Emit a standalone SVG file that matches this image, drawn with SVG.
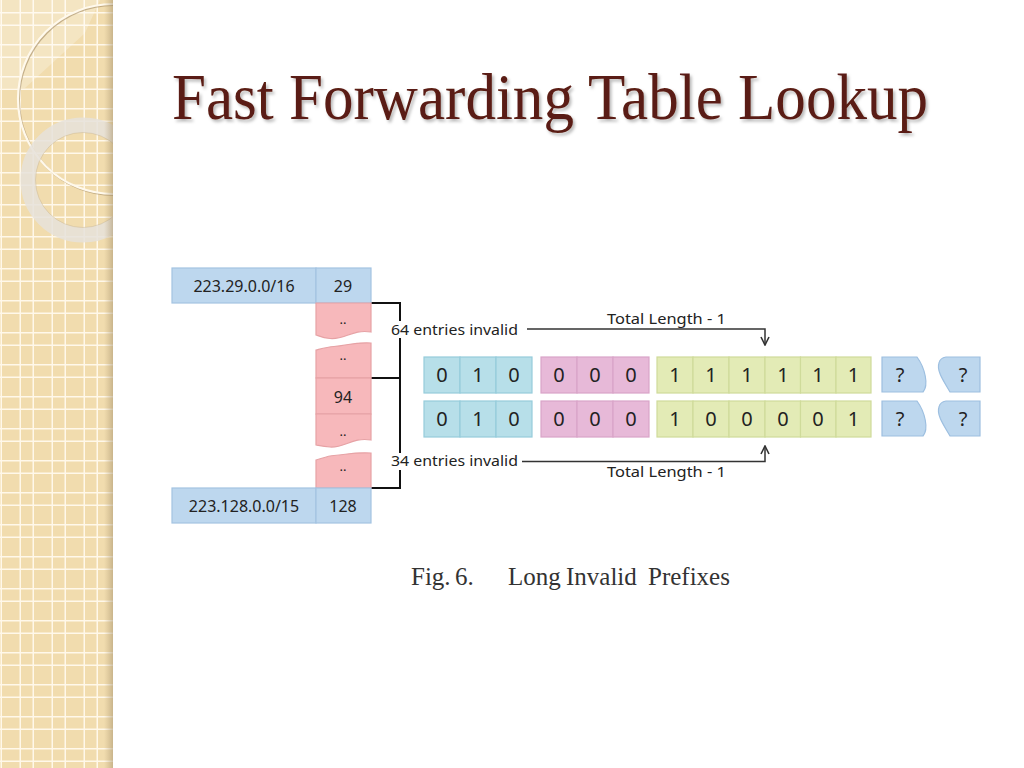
<svg xmlns="http://www.w3.org/2000/svg" width="1024" height="768" viewBox="0 0 1024 768">
<defs>
<pattern id="grid" x="0" y="0" width="32" height="32" patternUnits="userSpaceOnUse">
<rect width="32" height="32" fill="#F1DCAE"/>
<rect x="0" y="12" width="32" height="1.5" fill="#FFF8EA"/>
<rect x="0" y="24.5" width="32" height="1.5" fill="#FFF8EA"/>
<rect x="0.5" y="0" width="1.5" height="32" fill="#FFF8EA"/>
<rect x="19.5" y="0" width="1.5" height="32" fill="#FFF8EA"/>
</pattern>
<linearGradient id="edge" x1="0" y1="0" x2="1" y2="0">
<stop offset="0" stop-color="#B8A27A" stop-opacity="0"/>
<stop offset="1" stop-color="#A8946E" stop-opacity="0.55"/>
</linearGradient>
<clipPath id="side"><rect x="0" y="0" width="113" height="768"/></clipPath>
<filter id="tshadow" x="-5%" y="-20%" width="110%" height="150%">
<feDropShadow dx="2" dy="2.5" stdDeviation="1.5" flood-color="#000" flood-opacity="0.28"/>
</filter>
<marker id="arr" viewBox="0 0 10 10" refX="9" refY="5" markerWidth="10" markerHeight="10" markerUnits="userSpaceOnUse" orient="auto">
<path d="M1,1 L9,5 L1,9" fill="none" stroke="#333" stroke-width="1.6"/>
</marker>
<style>
.lbl{font-family:"Noto Sans","Liberation Sans",sans-serif;fill:#222;}
.bit{font-family:"Noto Sans","Liberation Sans",sans-serif;font-size:20px;fill:#222;text-anchor:middle;}
.blue{fill:#BDD7EE;stroke:#A3C3E2;stroke-width:1.2;}
.pink{fill:#F7B8BB;stroke:#E6A2A5;stroke-width:1.2;}
.cyan{fill:#B7DFE9;stroke:#96CCDB;stroke-width:1.2;}
.mag{fill:#E7B9D8;stroke:#D9A4C8;stroke-width:1.2;}
.grn{fill:#E3EBB6;stroke:#CFDB9A;stroke-width:1.2;}
.q{fill:#BDD7EE;stroke:#9DBFE0;stroke-width:1.2;}
.ln{fill:none;stroke:#333;stroke-width:1.5;}
.br{fill:none;stroke:#111;stroke-width:2;}
.cap{font-family:"Liberation Serif","Times New Roman",serif;font-size:25px;fill:#333;}
</style>
</defs>

<g id="sidebar">
<rect x="0" y="0" width="113" height="768" fill="url(#grid)"/>
<g clip-path="url(#side)">
<polygon points="0,0 100,0 85,33 25,88 0,88" fill="#FFFFFF" opacity="0.25"/>
<circle cx="114" cy="100" r="95" fill="none" stroke="#A48A62" stroke-width="2" opacity="0.6"/>
<circle cx="113" cy="99" r="95" fill="none" stroke="#FFF9EC" stroke-width="2.2"/>
<circle cx="83" cy="180" r="55" fill="none" stroke="#E6E2DA" stroke-width="15" opacity="0.85"/>
<circle cx="83" cy="180" r="47.5" fill="none" stroke="#C9B899" stroke-width="0.8" opacity="0.6"/>
<rect x="104" y="0" width="9" height="768" fill="url(#edge)"/>
</g>
</g>

<text id="title" x="172" y="119" font-family="'Liberation Serif','Times New Roman',serif" font-size="66" fill="#5A1D12" textLength="756" lengthAdjust="spacingAndGlyphs" filter="url(#tshadow)">Fast Forwarding Table Lookup</text>

<g id="connectors">
<path class="br" d="M371,303 H400 V321 M400,338 V453 M400,470 V488 H371 M371,378 H400"/>
<path class="ln" d="M527,329 H765 V345" marker-end="url(#arr)"/>
<path class="ln" d="M522,461.5 H765 V446" marker-end="url(#arr)"/>
</g>

<g id="entry-223-29">
<rect class="blue" x="172" y="268" width="144" height="35"/>
<rect class="blue" x="316" y="268" width="55" height="35"/>
<text class="lbl" x="244" y="292" font-size="16" text-anchor="middle">223.29.0.0/16</text>
<text class="lbl" x="343" y="292" font-size="16" text-anchor="middle">29</text>
</g>

<g id="pink-1">
<path class="pink" d="M316,303 H371 V332 C352,329 345,340 330,338.5 C323,338 319,336 316,335 Z"/>
<text class="lbl" x="343" y="324" font-size="13" text-anchor="middle">..</text>
</g>

<g id="pink-2">
<path class="pink" d="M316,350 C322,348.5 327,347 334,346.5 C347,345.5 354,342 371,343 V378 H316 Z"/>
<text class="lbl" x="343" y="360" font-size="13" text-anchor="middle">..</text>
</g>

<g id="pink-94">
<rect class="pink" x="316" y="378" width="55" height="36"/>
<text class="lbl" x="343" y="403" font-size="16" text-anchor="middle">94</text>
</g>

<g id="pink-3">
<path class="pink" d="M316,414 H371 V440 C352,437 345,448 330,447 C323,446.5 319,445.5 316,445 Z"/>
<text class="lbl" x="343" y="436" font-size="13" text-anchor="middle">..</text>
</g>

<g id="pink-4">
<path class="pink" d="M316,460 C322,458.5 327,456 334,455.5 C347,454.5 354,452 371,453 V488 H316 Z"/>
<text class="lbl" x="343" y="471" font-size="13" text-anchor="middle">..</text>
</g>

<g id="entry-223-128">
<rect class="blue" x="172" y="488" width="144" height="35"/>
<rect class="blue" x="316" y="488" width="55" height="35"/>
<text class="lbl" x="244" y="512" font-size="16" text-anchor="middle">223.128.0.0/15</text>
<text class="lbl" x="343" y="512" font-size="16" text-anchor="middle">128</text>
</g>

<g id="label-64">
<text class="lbl" x="391" y="334.5" font-size="15" textLength="127" lengthAdjust="spacingAndGlyphs">64 entries invalid</text>
</g>
<g id="label-total-top">
<text class="lbl" x="607" y="324" font-size="15" textLength="119" lengthAdjust="spacingAndGlyphs">Total Length - 1</text>
</g>
<g id="label-34">
<text class="lbl" x="391" y="466" font-size="15" textLength="127" lengthAdjust="spacingAndGlyphs">34 entries invalid</text>
</g>
<g id="label-total-bottom">
<text class="lbl" x="607" y="477" font-size="15" textLength="119" lengthAdjust="spacingAndGlyphs">Total Length - 1</text>
</g>

<g id="row1-a">
<rect class="cyan" x="424" y="357" width="36" height="36"/>
<rect class="cyan" x="460" y="357" width="36" height="36"/>
<rect class="cyan" x="496" y="357" width="36" height="36"/>
<text class="bit" x="442" y="382">0</text>
<text class="bit" x="478" y="382">1</text>
<text class="bit" x="514" y="382">0</text>
</g>
<g id="row1-b">
<rect class="mag" x="541" y="357" width="36" height="36"/>
<rect class="mag" x="577" y="357" width="36" height="36"/>
<rect class="mag" x="613" y="357" width="36" height="36"/>
<text class="bit" x="559" y="382">0</text>
<text class="bit" x="595" y="382">0</text>
<text class="bit" x="631" y="382">0</text>
</g>
<g id="row1-c">
<rect class="grn" x="657" y="357" width="36" height="36"/>
<rect class="grn" x="693" y="357" width="36" height="36"/>
<rect class="grn" x="729" y="357" width="36" height="36"/>
<rect class="grn" x="765" y="357" width="35.5" height="36"/>
<rect class="grn" x="800.5" y="357" width="35.5" height="36"/>
<rect class="grn" x="836" y="357" width="35" height="36"/>
<text class="bit" x="675" y="382">1</text>
<text class="bit" x="711" y="382">1</text>
<text class="bit" x="747" y="382">1</text>
<text class="bit" x="783" y="382">1</text>
<text class="bit" x="818" y="382">1</text>
<text class="bit" x="853.5" y="382">1</text>
</g>
<g id="row1-q1">
<path class="q" d="M882,357 H917 C925,368 929,385 923,392 H882 Z"/>
<text class="bit" x="900" y="382">?</text>
</g>
<g id="row1-q2">
<path class="q" d="M946,357 H980 V392 H950 C945,383 936,371 939,363 Q940,358 946,357 Z"/>
<text class="bit" x="963" y="382">?</text>
</g>

<g id="row2-a">
<rect class="cyan" x="424" y="401" width="36" height="36"/>
<rect class="cyan" x="460" y="401" width="36" height="36"/>
<rect class="cyan" x="496" y="401" width="36" height="36"/>
<text class="bit" x="442" y="426">0</text>
<text class="bit" x="478" y="426">1</text>
<text class="bit" x="514" y="426">0</text>
</g>
<g id="row2-b">
<rect class="mag" x="541" y="401" width="36" height="36"/>
<rect class="mag" x="577" y="401" width="36" height="36"/>
<rect class="mag" x="613" y="401" width="36" height="36"/>
<text class="bit" x="559" y="426">0</text>
<text class="bit" x="595" y="426">0</text>
<text class="bit" x="631" y="426">0</text>
</g>
<g id="row2-c">
<rect class="grn" x="657" y="401" width="36" height="36"/>
<rect class="grn" x="693" y="401" width="36" height="36"/>
<rect class="grn" x="729" y="401" width="36" height="36"/>
<rect class="grn" x="765" y="401" width="35.5" height="36"/>
<rect class="grn" x="800.5" y="401" width="35.5" height="36"/>
<rect class="grn" x="836" y="401" width="35" height="36"/>
<text class="bit" x="675" y="426">1</text>
<text class="bit" x="711" y="426">0</text>
<text class="bit" x="747" y="426">0</text>
<text class="bit" x="783" y="426">0</text>
<text class="bit" x="818" y="426">0</text>
<text class="bit" x="853.5" y="426">1</text>
</g>
<g id="row2-q1">
<path class="q" d="M882,401 H917 C925,412 929,429 923,436 H882 Z"/>
<text class="bit" x="900" y="426">?</text>
</g>
<g id="row2-q2">
<path class="q" d="M946,401 H980 V436 H950 C945,427 936,415 939,407 Q940,402 946,401 Z"/>
<text class="bit" x="963" y="426">?</text>
</g>

<g id="caption">
<text class="cap" x="411" y="585">Fig.</text>
<text class="cap" x="455" y="585">6.</text>
<text class="cap" x="508" y="585">Long</text>
<text class="cap" x="566" y="585">Invalid</text>
<text class="cap" x="648" y="585">Prefixes</text>
</g>
</svg>
